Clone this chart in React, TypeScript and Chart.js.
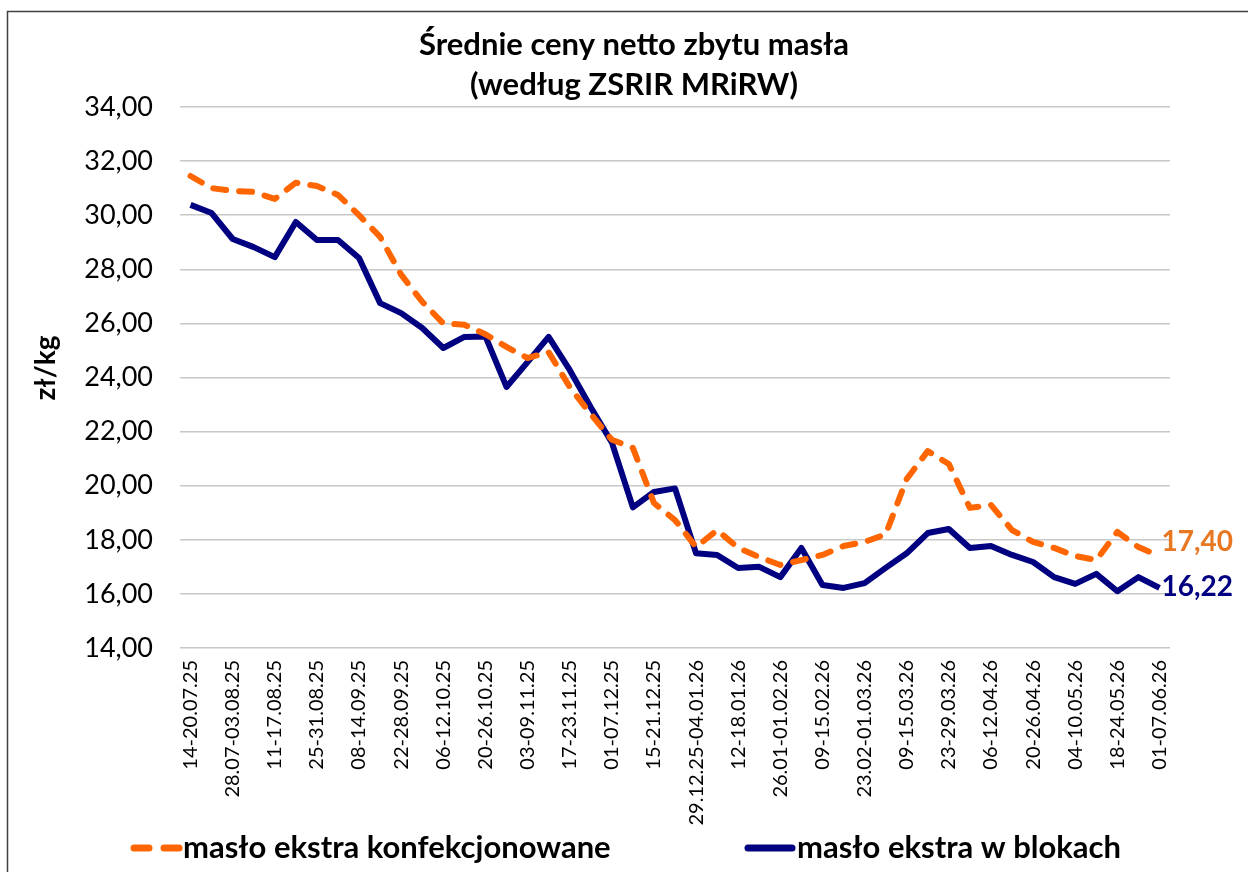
import React, { useEffect, useRef } from "react";
import { Chart, registerables } from "chart.js";

Chart.register(...registerables);

const categories: string[] = [
  "14-20.07.25", "21-27.07.25", "28.07-03.08.25", "04-10.08.25", "11-17.08.25",
  "18-24.08.25", "25-31.08.25", "01-07.09.25", "08-14.09.25", "15-21.09.25",
  "22-28.09.25", "29.09-05.10.25", "06-12.10.25", "13-19.10.25", "20-26.10.25",
  "27.10-02.11.25", "03-09.11.25", "10-16.11.25", "17-23.11.25", "24-30.11.25",
  "01-07.12.25", "08-14.12.25", "15-21.12.25", "22-28.12.25", "29.12.25-04.01.26",
  "05-11.01.26", "12-18.01.26", "19-25.01.26", "26.01-01.02.26", "02-08.02.26",
  "09-15.02.26", "16-22.02.26", "23.02-01.03.26", "02-08.03.26", "09-15.03.26",
  "16-22.03.26", "23-29.03.26", "30.03-05.04.26", "06-12.04.26", "13-19.04.26",
  "20-26.04.26", "27.04-03.05.26", "04-10.05.26", "11-17.05.26", "18-24.05.26",
  "25-31.05.26", "01-07.06.26",
];

const konfekcjonowane: number[] = [
  31.45, 31.0, 30.9, 30.86, 30.6, 31.2, 31.08, 30.75, 30.0, 29.2,
  27.8, 26.8, 26.0, 25.95, 25.6, 25.13, 24.72, 24.94, 23.65, 22.65,
  21.7, 21.4, 19.36, 18.73, 17.73, 18.36, 17.7, 17.36, 17.07, 17.25,
  17.44, 17.77, 17.92, 18.2, 20.25, 21.28, 20.8, 19.18, 19.29, 18.36,
  17.92, 17.7, 17.4, 17.25, 18.29, 17.73, 17.4,
];

const wBlokach: number[] = [
  30.38, 30.08, 29.12, 28.82, 28.45, 29.75, 29.08, 29.08, 28.42, 26.75,
  26.38, 25.83, 25.09, 25.5, 25.52, 23.65, 24.57, 25.5, 24.28, 22.9,
  21.6, 19.2, 19.77, 19.9, 17.5, 17.44, 16.96, 17.0, 16.62, 17.7,
  16.33, 16.22, 16.4, 16.96, 17.5, 18.25, 18.4, 17.7, 17.77, 17.44,
  17.18, 16.62, 16.37, 16.74, 16.1, 16.62, 16.22,
];

const seriesNames: string[] = ["masło ekstra konfekcjonowane", "masło ekstra w blokach"];
const titleLines: string[] = ["Średnie ceny netto zbytu masła", "(według ZSRIR MRiRW)"];
const yTitle = "zł/kg";

const ORANGE = "#FF6600";
const NAVY = "#000080";
const FONT = "Lato, 'Open Sans', sans-serif";

const fmt = (v: number) => v.toFixed(2).replace(".", ",");

const decorPlugin = {
  id: "decor",
  beforeDraw(chart: any) {
    const ctx = chart.ctx;
    ctx.save();
    ctx.fillStyle = "#ffffff";
    ctx.fillRect(0, 0, chart.width, chart.height);
    ctx.strokeStyle = "#404040";
    ctx.lineWidth = 1.5;
    ctx.beginPath();
    ctx.moveTo(7.5, chart.height);
    ctx.lineTo(7.5, 11.5);
    ctx.lineTo(chart.width, 11.5);
    ctx.stroke();
    ctx.restore();
  },
  afterDraw(chart: any) {
    const ctx = chart.ctx;
    ctx.save();
    // Title
    ctx.fillStyle = "#000000";
    ctx.textAlign = "center";
    ctx.textBaseline = "middle";
    ctx.font = `bold 31px ${FONT}`;
    ctx.fillText(titleLines[0], 634, 45);
    ctx.fillText(titleLines[1], 634, 85);

    // Y axis title
    ctx.save();
    ctx.translate(46, 368);
    ctx.rotate(-Math.PI / 2);
    ctx.font = `bold 28px ${FONT}`;
    ctx.fillText(yTitle, 0, 0);
    ctx.restore();

    // End labels
    const x = chart.scales.x;
    const y = chart.scales.y;
    const lastIdx = categories.length - 1;
    const px = x.getPixelForValue(lastIdx);
    ctx.textAlign = "left";
    ctx.font = `bold 28px ${FONT}`;
    ctx.fillStyle = "#E87722";
    ctx.fillText(fmt(konfekcjonowane[lastIdx]), px + 2, y.getPixelForValue(konfekcjonowane[lastIdx]) - 14);
    ctx.fillStyle = NAVY;
    ctx.fillText(fmt(wBlokach[lastIdx]), px + 2, y.getPixelForValue(wBlokach[lastIdx]) - 1);

    // Legend
    const ly = 848;
    ctx.lineCap = "round";
    ctx.lineWidth = 7;
    ctx.strokeStyle = ORANGE;
    ctx.beginPath();
    ctx.moveTo(134, ly);
    ctx.lineTo(149, ly);
    ctx.moveTo(164, ly);
    ctx.lineTo(179, ly);
    ctx.stroke();
    ctx.strokeStyle = NAVY;
    ctx.beginPath();
    ctx.moveTo(748, ly);
    ctx.lineTo(792, ly);
    ctx.stroke();
    ctx.fillStyle = "#000000";
    ctx.font = `bold 31px ${FONT}`;
    ctx.textAlign = "left";
    ctx.textBaseline = "middle";
    ctx.fillText(seriesNames[0], 183, ly);
    ctx.fillText(seriesNames[1], 797, ly);
    ctx.restore();
  },
};

export default function App() {
  const ref = useRef<HTMLCanvasElement | null>(null);
  useEffect(() => {
    document.body.style.margin = "0";
    const canvas = ref.current;
    if (!canvas) return;
    const chart = new Chart(canvas, {
      type: "line",
      data: {
        labels: categories,
        datasets: [
          {
            label: seriesNames[0],
            data: konfekcjonowane,
            borderColor: ORANGE,
            backgroundColor: ORANGE,
            borderWidth: 6,
            borderDash: [13, 13],
            borderCapStyle: "round",
            borderJoinStyle: "round",
            pointRadius: 0,
            tension: 0,
          },
          {
            label: seriesNames[1],
            data: wBlokach,
            borderColor: NAVY,
            backgroundColor: NAVY,
            borderWidth: 6,
            borderJoinStyle: "round",
            pointRadius: 0,
            tension: 0,
          },
        ],
      },
      options: {
        responsive: false,
        animation: false,
        layout: { padding: { left: 0, right: 78, top: 107, bottom: 24 } },
        plugins: {
          legend: { display: false },
          title: { display: false },
          tooltip: { enabled: false },
        },
        scales: {
          x: {
            offset: true,
            grid: { display: false },
            border: { display: false },
            ticks: {
              autoSkip: false,
              maxRotation: 90,
              minRotation: 90,
              padding: 4,
              color: "#000000",
              font: { family: FONT, size: 20 },
              callback: (_v: any, i: number) => (i % 2 === 0 ? categories[i] : ""),
            },
            afterFit: (s: any) => {
              s.height = 200;
            },
          },
          y: {
            min: 14,
            max: 34,
            border: { display: false },
            grid: { color: "#C8C8C8", lineWidth: 1.5, drawTicks: false },
            ticks: {
              stepSize: 2,
              padding: 27,
              color: "#000000",
              font: { family: FONT, size: 27 },
              callback: (v: any) => fmt(Number(v)),
            },
            afterFit: (s: any) => {
              s.width = 180;
            },
          },
        },
      },
      plugins: [decorPlugin],
    });
    return () => chart.destroy();
  }, []);
  return <canvas ref={ref} width={1248} height={872} style={{ display: "block", width: 1248, height: 872 }} />;
}
